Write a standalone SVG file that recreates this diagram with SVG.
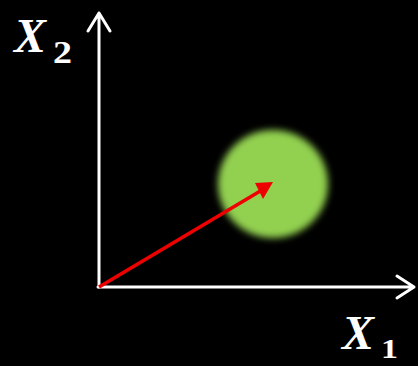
<svg xmlns="http://www.w3.org/2000/svg" width="418" height="366" viewBox="0 0 418 366">
<style>
.axis{stroke:#fff;stroke-width:3;fill:none;stroke-linecap:round;stroke-linejoin:round}
.lbl{font-family:"Liberation Serif",serif;font-style:italic;font-weight:bold;fill:#fff}
.sub{font-family:"Liberation Serif",serif;font-weight:bold;fill:#fff}
</style>
<defs>
<filter id="blur" x="-30%" y="-30%" width="160%" height="160%"><feGaussianBlur stdDeviation="3.5"/></filter>
</defs>
<rect width="418" height="366" fill="#000"/>
<g id="blob"><ellipse cx="273" cy="184" rx="55" ry="54" fill="#92d050" filter="url(#blur)"/></g>
<g id="connectors">
<path class="axis" d="M99,287 V13 M88,31 L99,13 L110,31"/>
<path class="axis" d="M98,287 H414 M397,276 L414,287 L397,298"/>
<line x1="99" y1="287" x2="262" y2="190" stroke="#e00" stroke-width="3.5"/>
<path d="M273,182 L255,183 L263,199 Z" fill="#e00"/>
</g>
<g id="label-x2"><text class="lbl" x="14" y="52" font-size="48">X</text><text class="sub" x="53" y="63" font-size="31" textLength="19" lengthAdjust="spacingAndGlyphs">2</text></g>
<g id="label-x1"><text class="lbl" x="342" y="349" font-size="48">X</text><text class="sub" x="381" y="358" font-size="28" textLength="17" lengthAdjust="spacingAndGlyphs">1</text></g>
</svg>
